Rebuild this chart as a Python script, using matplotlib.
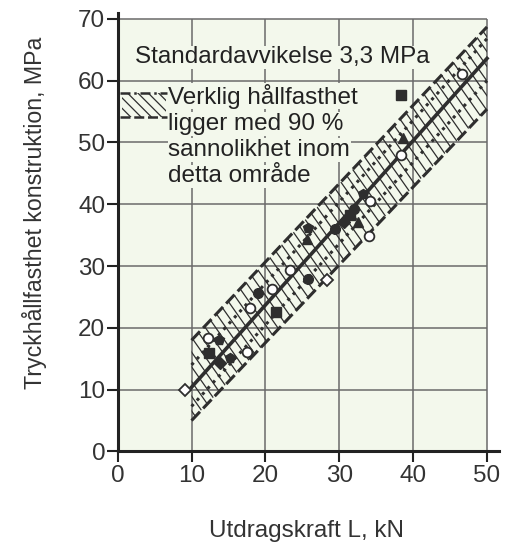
import matplotlib
matplotlib.use("Agg")

import numpy as np
import matplotlib.pyplot as plt
from matplotlib.patches import Rectangle, Polygon
from matplotlib.collections import LineCollection

plt.rcParams['font.family'] = ['Liberation Sans', 'DejaVu Sans']

# regression line, dotted lines and 90 % band (read at x = 10 and x = 50)
line_x = [10, 50]
fit_y = [10.4, 63.6]
dot_hi_y = [14.0, 66.8]
dot_lo_y = [7.3, 60.0]
band_hi_y = [18.0, 68.7]
band_lo_y = [5.0, 55.4]

# measured points, grouped by marker
open_circle_x = [12.2, 17.5, 17.9, 20.9, 23.3, 34.0, 34.1, 38.4, 46.6]
open_circle_y = [18.4, 16.1, 23.2, 26.3, 29.4, 34.8, 40.6, 48.0, 61.0]
open_diamond_x = [9.1, 28.3]
open_diamond_y = [9.9, 27.7]
filled_circle_x = [19.0, 25.7, 29.4, 32.0]
filled_circle_y = [25.7, 27.9, 36.0, 39.3]
filled_square_x = [12.3, 21.5, 31.5, 38.4]
filled_square_y = [16.0, 22.6, 38.2, 57.7]
filled_pent_x = [13.7, 15.2, 25.7, 33.2]
filled_pent_y = [18.1, 15.2, 36.1, 41.7]
filled_diamond_x = [13.8, 30.6]
filled_diamond_y = [14.3, 37.2]
filled_tri_x = [25.6, 32.6, 38.6]
filled_tri_y = [34.4, 37.1, 50.8]

xticks = [0, 10, 20, 30, 40, 50]
yticks = [0, 10, 20, 30, 40, 50, 60, 70]

legend_lines = ["Verklig hållfasthet", "ligger med 90 %",
                "sannolikhet inom", "detta område"]

bg = '#f3f8ec'
dark = '#2e2e2e'
fs = 17.5


def hatch_lines(ax, clip, slope, step, lo, hi):
    #diagonal lines "\" clipped to a patch
    starts = np.arange(lo, hi, step)
    segs = [[(s, 80), (s + 90 / slope, -10)] for s in starts]
    lc = LineCollection(segs, colors=dark, linewidths=0.9, zorder=clip.get_zorder())
    ax.add_collection(lc)
    lc.set_clip_path(clip)


fig = plt.figure(figsize=(5.09, 5.45), dpi=100)
ax = fig.add_axes([0.2312, 0.1716, 0.7488, 0.8051])
ax.set_xlim(0, 51.6)
ax.set_ylim(0, 71)
ax.set_facecolor('white')

#plot area with grid
ax.add_patch(Rectangle((0, 0), 50, 70, facecolor=bg, edgecolor='none', zorder=0))
ax.vlines(xticks[1:], 0, 70, color='#6a6a6a', lw=1.1, zorder=1)
ax.hlines(yticks[1:], 0, 50, color='#6a6a6a', lw=1.1, zorder=1)

#hatched band
poly = Polygon([[line_x[0], band_lo_y[0]], [line_x[1], band_lo_y[1]],
                [line_x[1], band_hi_y[1]], [line_x[0], band_hi_y[0]]],
               closed=True, facecolor='none', edgecolor='none', zorder=2)
ax.add_patch(poly)
hatch_lines(ax, poly, 1.7, 1.4, -50, 60)

ax.plot(line_x, band_hi_y, color=dark, lw=2.2, ls=(0, (4, 1.5)), zorder=3)
ax.plot(line_x, band_lo_y, color=dark, lw=2.2, ls=(0, (4, 1.5)), zorder=3)
ax.plot(line_x, dot_hi_y, color=dark, lw=2.2, ls=(0, (1, 1.6)), zorder=3)
ax.plot(line_x, dot_lo_y, color=dark, lw=2.2, ls=(0, (1, 1.6)), zorder=3)
ax.plot(line_x, fit_y, color=dark, lw=2.6, zorder=3)

#points
ms = 7
ax.plot(open_circle_x, open_circle_y, 'o', ms=ms, mfc='white', mec=dark, mew=1.3, zorder=4)
ax.plot(open_diamond_x, open_diamond_y, 'D', ms=ms - 1, mfc='white', mec=dark, mew=1.3, zorder=4)
ax.plot(filled_circle_x, filled_circle_y, 'o', ms=ms, color=dark, zorder=4)
ax.plot(filled_square_x, filled_square_y, 's', ms=ms - 0.5, color=dark, zorder=4)
ax.plot(filled_pent_x, filled_pent_y, 'p', ms=ms + 0.5, color=dark, zorder=4)
ax.plot(filled_diamond_x, filled_diamond_y, 'D', ms=ms - 1, color=dark, zorder=4)
ax.plot(filled_tri_x, filled_tri_y, '^', ms=ms, color=dark, zorder=4)

#texts
tbox = dict(facecolor=bg, edgecolor='none', pad=0.5)
ax.text(2.3, 62.8, "Standardavvikelse 3,3 MPa", fontsize=fs, color='#222222',
        va='baseline', bbox=tbox, zorder=5)
for i, s in enumerate(legend_lines):
    ax.text(6.85, 56.3 - 4.25 * i, s, fontsize=fs, color='#222222',
            va='baseline', bbox=tbox, zorder=5)

#legend symbol
key = Rectangle((0.6, 54.2), 6.0, 3.8, facecolor='none', edgecolor='none', zorder=5)
ax.add_patch(key)
hatch_lines(ax, key, 1.2, 1.4, -80, 10)
ax.plot([0.3, 6.7], [58.0, 58.0], color=dark, lw=1.8, ls=(0, (4, 1.5, 1, 1.5)), zorder=6)
ax.plot([0.3, 6.7], [54.2, 54.2], color=dark, lw=1.8, ls=(0, (4, 1.5)), zorder=6)

#axes
for side in ['top', 'right']:
    ax.spines[side].set_visible(False)
for side in ['left', 'bottom']:
    ax.spines[side].set_linewidth(2.2)
    ax.spines[side].set_color('#222222')
ax.set_xticks(xticks)
ax.set_yticks(yticks)
ax.tick_params(axis='both', direction='out', length=8, width=1.5,
               labelsize=fs, labelcolor='#333333', color='#222222')
ax.tick_params(axis='x', pad=1.5)
ax.tick_params(axis='y', pad=1)

fig.text(306.5 / 509, 1 - 531 / 545, "Utdragskraft L, kN", fontsize=fs,
         color='#333333', ha='center', va='center')
fig.text(35 / 509, 1 - 213 / 545, "Tryckhållfasthet konstruktion, MPa",
         fontsize=16.7, color='#333333', ha='center', va='center', rotation=90)

fig.savefig("out.png", dpi=100, facecolor='white')
